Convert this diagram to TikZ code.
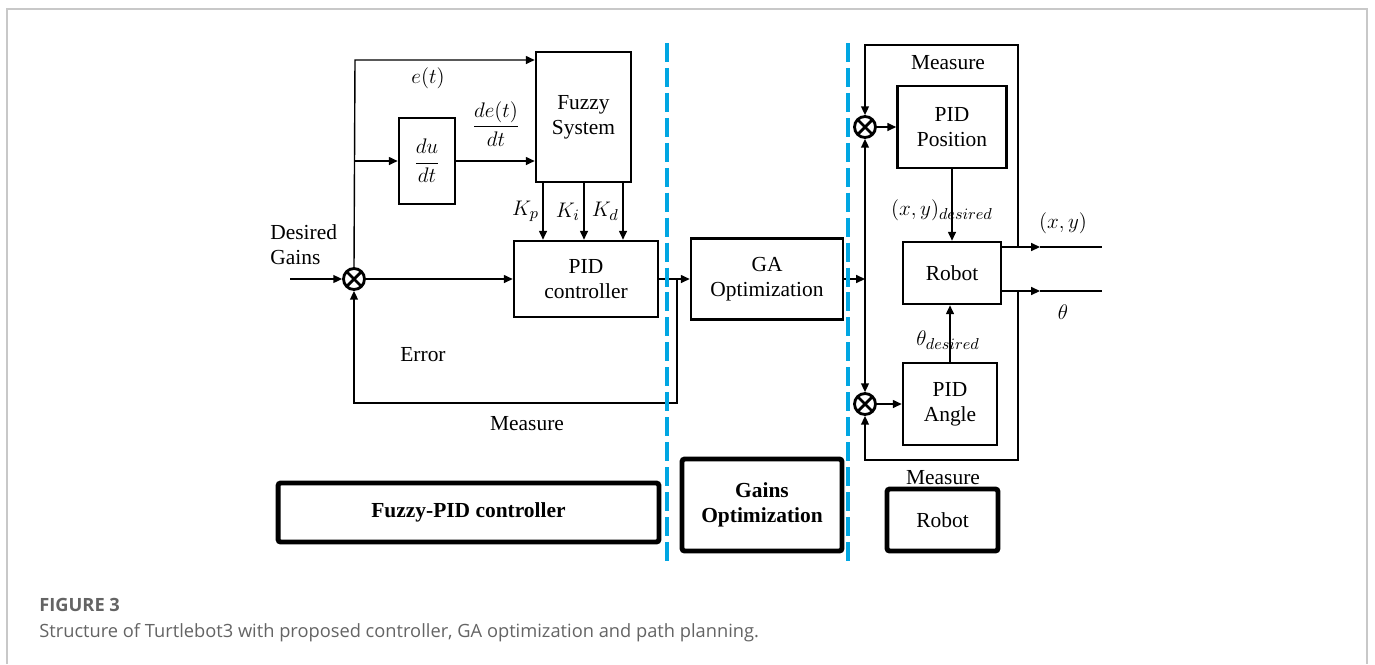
\documentclass[tikz,border=0pt]{standalone}
\usepackage{amsmath}
\usepackage{fontspec}
\setmainfont{Liberation Serif}
\newfontfamily\capfont{Open Sans}
\usetikzlibrary{arrows.meta, positioning}
\definecolor{sepblue}{RGB}{0,166,226}
\definecolor{framegray}{RGB}{200,200,200}
\definecolor{capgray}{RGB}{100,100,100}

\begin{document}
\begin{tikzpicture}[x=0.02cm, y=-0.02cm, >={Triangle[length=5pt, width=4.5pt]},
    font=\fontsize{12.2}{14.2}\selectfont,
    block/.style={rectangle, draw, line width=1.5pt, align=center, inner sep=0pt},
    summer/.style={circle, draw, line width=1.6pt, minimum size=0.42cm, inner sep=0pt,
        path picture={\draw[line width=1.6pt] (path picture bounding box.north west) -- (path picture bounding box.south east)
            (path picture bounding box.north east) -- (path picture bounding box.south west);}},
    labelbox/.style={rectangle, draw, line width=2.8pt, rounded corners=1.5pt, align=center, font=\fontsize{12.2}{14.2}\selectfont\bfseries},
    sepline/.style={sepblue, line width=2.8pt, dash pattern=on 10.8pt off 3.4pt}]

\useasboundingbox (0,0) rectangle (1375,664);
\draw[framegray, line width=1.2pt] (7,664) -- (7,9) -- (1367,9) -- (1367,664);

% Nodes
\node [summer] (sum1) at (354,279) {};
\node [block, minimum width=1.12cm, minimum height=1.72cm] (dudt) at (427,161) {$\dfrac{du}{dt}$};
\node [block, minimum width=1.9cm, minimum height=2.6cm] (fuzzy) at (583.5,117) {Fuzzy\\System};
\node [block, minimum width=2.88cm, minimum height=1.52cm] (pid) at (586,279) {PID\\controller};
\node [block, minimum width=3.04cm, minimum height=1.62cm] (ga) at (767,279) {GA\\Optimization};
\node [summer] (sum2) at (865,127) {};
\node [summer] (sum3) at (865,404) {};
\node [block, minimum width=2.18cm, minimum height=1.64cm] (pidpos) at (952,127) {PID\\Position};
\node [block, minimum width=1.96cm, minimum height=1.24cm] (robot) at (952,273) {Robot};
\node [block, minimum width=1.88cm, minimum height=1.64cm] (pidang) at (950,404) {PID\\Angle};

% Part boxes
\node [labelbox, minimum width=7.62cm, minimum height=1.18cm] (fpidbox) at (468.5,512.5) {Fuzzy-PID controller};
\node [labelbox, minimum width=3.2cm, minimum height=1.84cm] (gabox) at (762,505) {Gains\\Optimization};
\node [labelbox, minimum width=2.22cm, minimum height=1.24cm, font=\fontsize{12.2}{14.2}\selectfont] (robotbox) at (942.5,520) {Robot};

% Helper points
\coordinate (input) at (290,279);
\coordinate (etop) at (355,60);
\coordinate (fb) at (677,279);
\coordinate (fbc) at (677,403);
\coordinate (gaout) at (865,279);
\coordinate (m1) at (1018,247);
\coordinate (m2) at (1018,291);
\coordinate (mtop) at (1018,45);
\coordinate (mbot) at (1018,460);
\coordinate (xytip) at (1040,247);
\coordinate (thtip) at (1040,291);
\coordinate (xyend) at (1102,247);
\coordinate (thend) at (1102,291);

% Fuzzy-PID part
\draw[->, thick] (input) -- (sum1);
\draw[->, thick] (sum1) -- (pid);
\draw[->, thick] (sum1.north) -- (etop) -- (etop -| fuzzy.west);
\draw[->, thick] (sum1 |- dudt) -- (dudt.west);
\draw[->, thick] (dudt.east) -- (dudt.east -| fuzzy.west);
\foreach \x/\k in {543/p, 584/i, 623/d}
    \draw[->, thick] (\x,0 |- fuzzy.south) -- (\x,0 |- pid.north) node[midway, left, inner sep=2pt] {$K_\k$};
\draw[->, thick] (pid) -- (ga);
\draw[->, thick] (fb) -- (fbc) -| (sum1.south);

% Robot part
\draw[->, thick] (ga.east) -- (gaout);
\draw[->, thick] (gaout) -- (sum2.south);
\draw[->, thick] (gaout) -- (sum3.north);
\draw[->, thick] (sum2) -- (pidpos);
\draw[->, thick] (sum3) -- (pidang);
\draw[->, thick] (pidpos) -- (robot);
\draw[->, thick] (pidang.north) -- (pidang.north |- robot.south);
\draw[->, thick] (robot.east |- xytip) -- (xytip);
\draw[thick] (xytip) -- (xyend);
\draw[->, thick] (robot.east |- thtip) -- (thtip);
\draw[thick] (thtip) -- (thend);
\draw[->, thick] (m1) -- (mtop) -| (sum2.north);
\draw[->, thick] (m2) -- (mbot) -| (sum3.south);

% Labels
\node at (428,78) {$e(t)$};
\node at (496,124) {$\dfrac{de(t)}{dt}$};
\node [anchor=west, align=left, inner sep=0pt] at (270,245) {Desired\\Gains};
\node at (423,355) {Error};
\node at (527,424) {Measure};
\node at (948,63) {Measure};
\node at (942,210) {$(x,y)_{desired}$};
\node at (1063,223) {$(x,y)$};
\node at (1063,312) {$\theta$};
\node at (948,340) {$\theta_{desired}$};
\node at (943,478) {Measure};

% Separators
\draw[sepline] (667,43) -- (667,565);
\draw[sepline] (848,43) -- (848,565);

% Caption
\node [anchor=west, inner sep=0pt, text=capgray, font=\capfont\fontsize{10.4}{12}\selectfont\bfseries] at (39,605) {FIGURE 3};
\node [anchor=west, inner sep=0pt, text=capgray, font=\capfont\fontsize{10.4}{12}\selectfont] at (39,633) {Structure of Turtlebot3 with proposed controller, GA optimization and path planning.};

\end{tikzpicture}
\end{document}
